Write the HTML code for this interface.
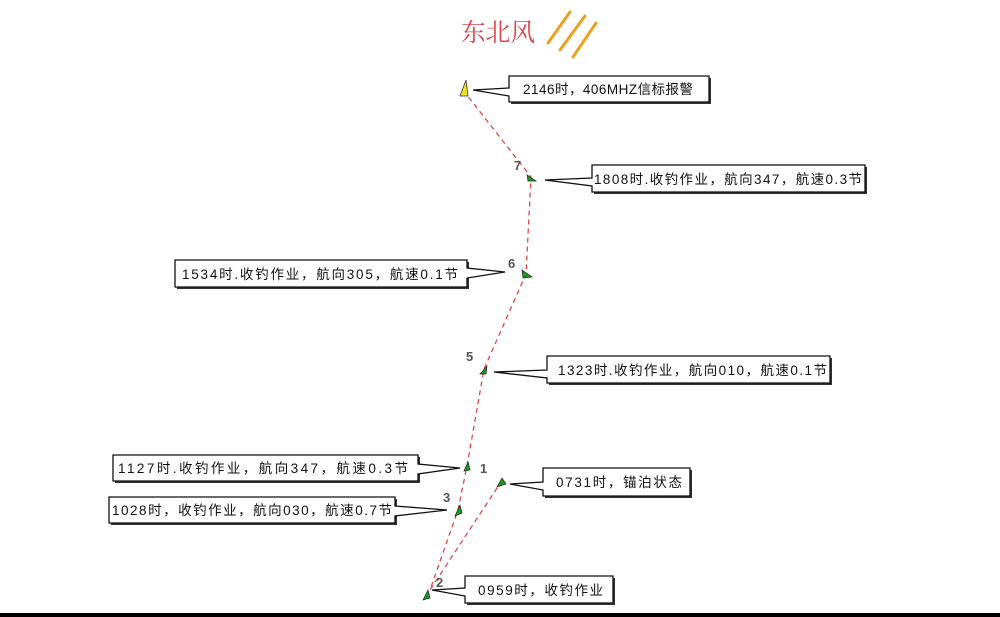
<!DOCTYPE html>
<html><head><meta charset="utf-8"><style>
html,body{margin:0;padding:0;background:#fff;}
svg{display:block}
text{font-family:"Liberation Sans","Noto Sans CJK SC",sans-serif;}
</style></head><body>
<svg width="1000" height="617" viewBox="0 0 1000 617" xmlns="http://www.w3.org/2000/svg">
<rect width="1000" height="617" fill="#fff"/>
<text x="461" y="41" font-size="25" fill="#d9474b" textLength="74" lengthAdjust="spacingAndGlyphs" style="font-family:'Liberation Serif','Noto Serif CJK SC',serif">东北风</text>
<g stroke="#f0a020" stroke-width="3" stroke-linecap="round">
<line x1="548" y1="43" x2="570" y2="12"/>
<line x1="560" y1="50" x2="585" y2="16"/>
<line x1="573" y1="57" x2="596" y2="23"/>
</g>
<polyline points="463,90 531,177 526,274 484,369 467,466 458,510 430,590 501,482" fill="none" stroke="#e04848" stroke-width="1.3" stroke-dasharray="5,4"/>
<g fill="#fff" stroke="#111" stroke-width="1.3">
<g fill="#333" stroke="none">
<rect x="511" y="78" width="200" height="26"/>
<rect x="594" y="167" width="273" height="27"/>
<rect x="177" y="262" width="292" height="27"/>
<rect x="549" y="358" width="283" height="27"/>
<rect x="115" y="457" width="305" height="26"/>
<rect x="545" y="470" width="147" height="28"/>
<rect x="111" y="499" width="286" height="26"/>
<rect x="467" y="578" width="148" height="27"/>
</g>
<path d="M509,76 H709 V102 H509 V96 L473,90 L509,88 Z"/>
<path d="M592,165 H865 V192 H592 V186 L545,180 L592,178 Z"/>
<path d="M175,260 H467 V268 L505,272 L467,278 V287 H175 Z"/>
<path d="M547,356 H830 V383 H547 V378 L494,372 L547,370 Z"/>
<path d="M113,455 H418 V464 L460,468 L418,474 V481 H113 Z"/>
<path d="M543,468 H690 V496 H543 V490 L510,484 L543,482 Z"/>
<path d="M109,497 H395 V506 L447,510 L395,516 V523 H109 Z"/>
<path d="M465,576 H613 V603 H465 V596 L432,590 L465,588 Z"/>
</g>
<g font-size="13.5" fill="#111" lengthAdjust="spacingAndGlyphs">
<text x="523" y="94" textLength="170">2146时，406MHZ信标报警</text>
<text x="594" y="184" textLength="268">1808时.收钓作业，航向347，航速0.3节</text>
<text x="182" y="279" textLength="276">1534时.收钓作业，航向305，航速0.1节</text>
<text x="558" y="375" textLength="269">1323时.收钓作业，航向010，航速0.1节</text>
<text x="118" y="473" textLength="290">1127时.收钓作业，航向347，航速0.3节</text>
<text x="556" y="487" textLength="126">0731时，锚泊状态</text>
<text x="112" y="515" textLength="280">1028时，收钓作业，航向030，航速0.7节</text>
<text x="478" y="595" textLength="125">0959时，收钓作业</text>
</g>
<g font-size="13" font-weight="bold" fill="#555">
<text x="514" y="170">7</text>
<text x="508" y="268">6</text>
<text x="466" y="361">5</text>
<text x="480" y="473">1</text>
<text x="443" y="502">3</text>
<text x="436" y="587">2</text>
</g>
<polygon points="460,96 468,96 466,80" fill="#f5e020" stroke="#333" stroke-width="0.8"/>
<g fill="#1a9a1a" stroke="#222" stroke-width="0.7">
<polygon points="527,175 536,181 528,181"/>
<polygon points="522,270 532,277 523,278"/>
<polygon points="480,374 487,366 486,374"/>
<polygon points="464,471 468,462 470,470"/>
<polygon points="497,487 502,478 506,484"/>
<polygon points="455,516 460,505 462,513"/>
<polygon points="423,600 428,590 430,598"/>
</g>
<rect x="0" y="613" width="1000" height="4" fill="#000"/>
</svg>
</body></html>
